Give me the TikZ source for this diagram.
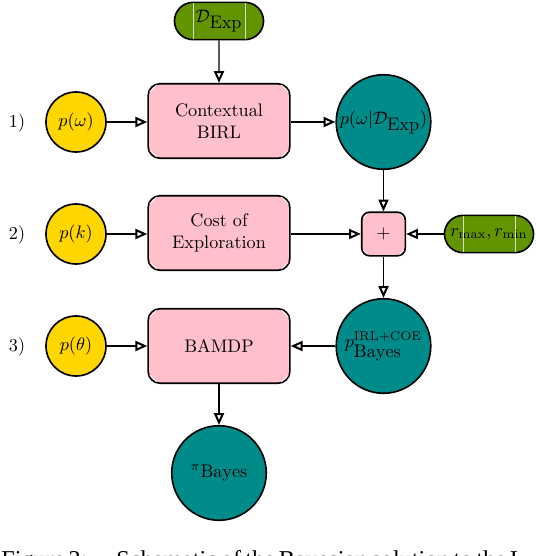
\documentclass[tikz,border=0pt]{standalone}
\usepackage{fontspec}
\newfontfamily\capfont{Liberation Serif}
\usetikzlibrary{arrows.meta,shapes.misc}
\definecolor{boxpink}{RGB}{255,192,203}
\definecolor{datagreen}{RGB}{98,148,0}
\definecolor{postteal}{RGB}{0,139,139}
\definecolor{priorgold}{RGB}{255,214,0}
\newcommand\boxchords[2]{%
  \foreach \a/\sx/\sy in {north west/1/-1,north east/-1/-1,south west/1/1,south east/-1/1}
    \draw[white,line width=0.35pt] ([shift={(\sx*1.3pt,\sy*#2)}]#1.\a) -- ([shift={(\sx*#2,\sy*1.3pt)}]#1.\a);}
\newcommand\pilllines[1]{%
  \foreach \s in {-1,1}
    \draw[white!85!black,line width=0.35pt] ([xshift=\s*14.3pt,yshift=-0.6pt]#1.north) -- ([xshift=\s*14.3pt,yshift=0.6pt]#1.south);}
\begin{document}
\begin{tikzpicture}[x=0.55pt,y=-0.55pt,
  procbox/.style={draw,line width=0.9pt,fill=boxpink,rounded corners=6.6pt,
    minimum width=78pt,minimum height=41pt,align=center,inner sep=0pt},
  prior/.style={circle,draw,line width=0.9pt,fill=priorgold,minimum size=33pt,inner sep=0pt},
  post/.style={circle,draw,line width=0.9pt,fill=postteal,minimum size=52pt,inner sep=0pt},
  datapill/.style={rounded rectangle,draw,line width=0.9pt,fill=datagreen,
    minimum width=49pt,minimum height=20.5pt,inner sep=0pt},
  plusbox/.style={draw,line width=0.9pt,fill=boxpink,rounded corners=4.4pt,
    minimum size=24pt,inner sep=0pt},
  flow/.style={line width=0.7pt,-{Triangle[open,length=6.5pt,width=5.5pt,line width=1.1pt]}},
  rowlabel/.style={inner sep=0pt}]
\useasboundingbox (0,0) rectangle (536,556);

% row labels
\node[rowlabel] (l1) at (17,123) {1)};
\node[rowlabel] (l2) at (17,235) {2)};
\node[rowlabel] (l3) at (17,347) {3)};

% priors
\node[prior] (pw) at (76,122) {$p(\omega)$};
\node[prior] (pk) at (76,234) {$p(k)$};
\node[prior] (pt) at (76,346) {$p(\theta)$};

% processing boxes
\node[procbox] (birl) at (219,121) {Contextual\\BIRL};
\node[procbox] (coe) at (219,233) {Cost of\\Exploration};
\node[procbox] (bamdp) at (219,346) {BAMDP};
\boxchords{birl}{5pt}
\boxchords{coe}{5pt}
\boxchords{bamdp}{5pt}

% data pills
\node[datapill] (dexp) at (219,21) {$\mathcal{D}_{\textstyle\mathrm{Exp}}$};
\pilllines{dexp}
\node[datapill] (rr) at (489,234) {$r_{\max},r_{\min}$};
\pilllines{rr}

% combination
\node[plusbox] (plus) at (383.5,234) {$+$};
\boxchords{plus}{3.5pt}

% posteriors
\node[post] (pwd) at (383.5,122) {$p(\omega|\mathcal{D}_{\textstyle\mathrm{Exp}})$};
\node[post] (pbayes) at (383.5,346) {$p_{\textstyle\mathrm{Bayes}}^{\mathrm{IRL+COE}}$};
\node[post] (pib) at (219,473) {${}^{\pi}\mathrm{Bayes}$};

% connectors
\draw[flow] (dexp) -- (birl);
\draw[flow] (pw) -- (birl.west |- pw);
\draw[flow] (birl.east |- pwd) -- (pwd);
\draw[flow] (pwd) -- (plus);
\draw[flow] (pk) -- (coe.west |- pk);
\draw[flow] (coe.east |- plus) -- (plus);
\draw[flow] (rr) -- (plus);
\draw[flow] (plus) -- (pbayes);
\draw[flow] (pbayes) -- (bamdp);
\draw[flow] (pt) -- (bamdp);
\draw[flow] (bamdp) -- (pib);

% caption (cut by the page edge, as in the reference)
\node[anchor=north west,inner sep=0pt,font=\capfont\fontsize{13.3}{16}\selectfont] (cap) at (1,550)
  {\makebox[281pt][s]{Figure 2:\hspace{1.2em}Schematic of the Bayesian solution to the I}};
\end{tikzpicture}
\end{document}
